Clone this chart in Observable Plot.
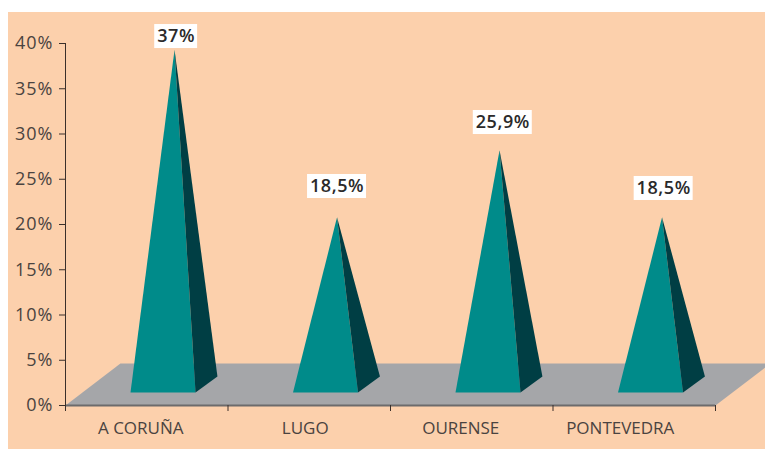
<!DOCTYPE html>
<html><head><meta charset="utf-8">
<script src="https://cdn.jsdelivr.net/npm/d3@7"></script>
<script src="https://cdn.jsdelivr.net/npm/@observablehq/plot@0.6"></script>
<style>
html,body{margin:0;padding:0;background:#fff;overflow:hidden}
#panel{position:absolute;left:8px;top:12px;width:757px;height:437px;background:#fcd0ac}
#chart{position:absolute;left:0;top:0}
.nums text{letter-spacing:1px}
.vals text{letter-spacing:.6px}
</style></head><body>
<div id="panel"></div><div id="chart"></div>
<script>
const provinces = ["A CORUÑA", "LUGO", "OURENSE", "PONTEVEDRA"];
const shares = [37, 18.5, 25.9, 18.5];
const shareLabels = ["37%", "18,5%", "25,9%", "18,5%"];
const yTicks = [0, 5, 10, 15, 20, 25, 30, 35, 40];
const xTicks = [0, 1, 2, 3, 4];

// 3D projection: x in category widths, y in percentage points
const depthX = 0.338, depthY = 4.64;
const baseLeft = 0.40, baseRight = 0.80, sideX = 0.135, sideY = 1.77, frontY = 1.44;
const apexX = 0.671, apexLift = 2.3;
// layout of the labels
const valueLabelY = [40.77, 24.2, 31.27, 23.98];
const valueLabelDx = [0.01, 0, 0.02, 0.01];
const valueLabelHalfW = [0.132, 0.1815, 0.1815, 0.1815];
const valueLabelHalfH = 1.326;
const nameDx = [-6, -4, -11, -14];

const floor = [
  {x: 0, y: 0}, {x: depthX, y: depthY}, {x: 4 + depthX, y: depthY}, {x: 4, y: 0}
];
const front = [], side = [], boxes = [];
shares.forEach((v, i) => {
  const apex = {i, x: i + apexX, y: v + apexLift};
  front.push({i, x: i + baseLeft, y: frontY}, {i, x: i + baseRight, y: frontY}, apex);
  side.push({i, x: i + baseRight, y: frontY}, {i, x: i + baseRight + sideX, y: frontY + sideY}, apex);
  boxes.push({label: shareLabels[i], x: i + apexX + valueLabelDx[i], y: valueLabelY[i], w: valueLabelHalfW[i]});
});
const names = provinces.map((name, i) => ({name, x: i + 0.5, dx: nameDx[i]}));

const plot = Plot.plot({
  width: 765, height: 449,
  marginLeft: 65, marginRight: 50, marginTop: 43, marginBottom: 44,
  style: {background: "transparent", fontFamily: "'Open Sans', sans-serif", overflow: "visible"},
  x: {type: "linear", domain: [0, 4]},
  y: {type: "linear", domain: [0, 40]},
  marks: [
    Plot.line(floor, {x: "x", y: "y", fill: "#a5a6a9", stroke: "none"}),
    Plot.ruleY([0], {stroke: "#6c6b6c", strokeWidth: 2}),
    Plot.axisY({ticks: yTicks, tickFormat: d => d + "%", tickSize: 6, tickPadding: 6, fontSize: 18, label: null, color: "#4a4340", stroke: "#3a2f2a", className: "nums"}),
    Plot.ruleX([0], {y1: 0, y2: 40, stroke: "#3a2f2a"}),
    Plot.axisX({ticks: xTicks, tickFormat: () => "", tickSize: 6, label: null, stroke: "#3a2f2a"}),
    Plot.line(front, {x: "x", y: "y", z: "i", fill: "#008b8a", stroke: "none"}),
    Plot.line(side, {x: "x", y: "y", z: "i", fill: "#003e44", stroke: "none"}),
    Plot.rect(boxes, {x1: d => d.x - d.w, x2: d => d.x + d.w, y1: d => d.y - valueLabelHalfH, y2: d => d.y + valueLabelHalfH, fill: "white"}),
    Plot.text(boxes, {x: "x", y: "y", text: "label", fontSize: 18, fontWeight: 600, fill: "#2b2a2a", className: "vals"}),
    ...names.map(d => Plot.text([d], {x: "x", y: 0, text: "name", dx: d.dx, dy: 23, fontSize: 17, fill: "#4a4340"}))
  ]
});
document.getElementById("chart").appendChild(plot);
</script></body></html>
